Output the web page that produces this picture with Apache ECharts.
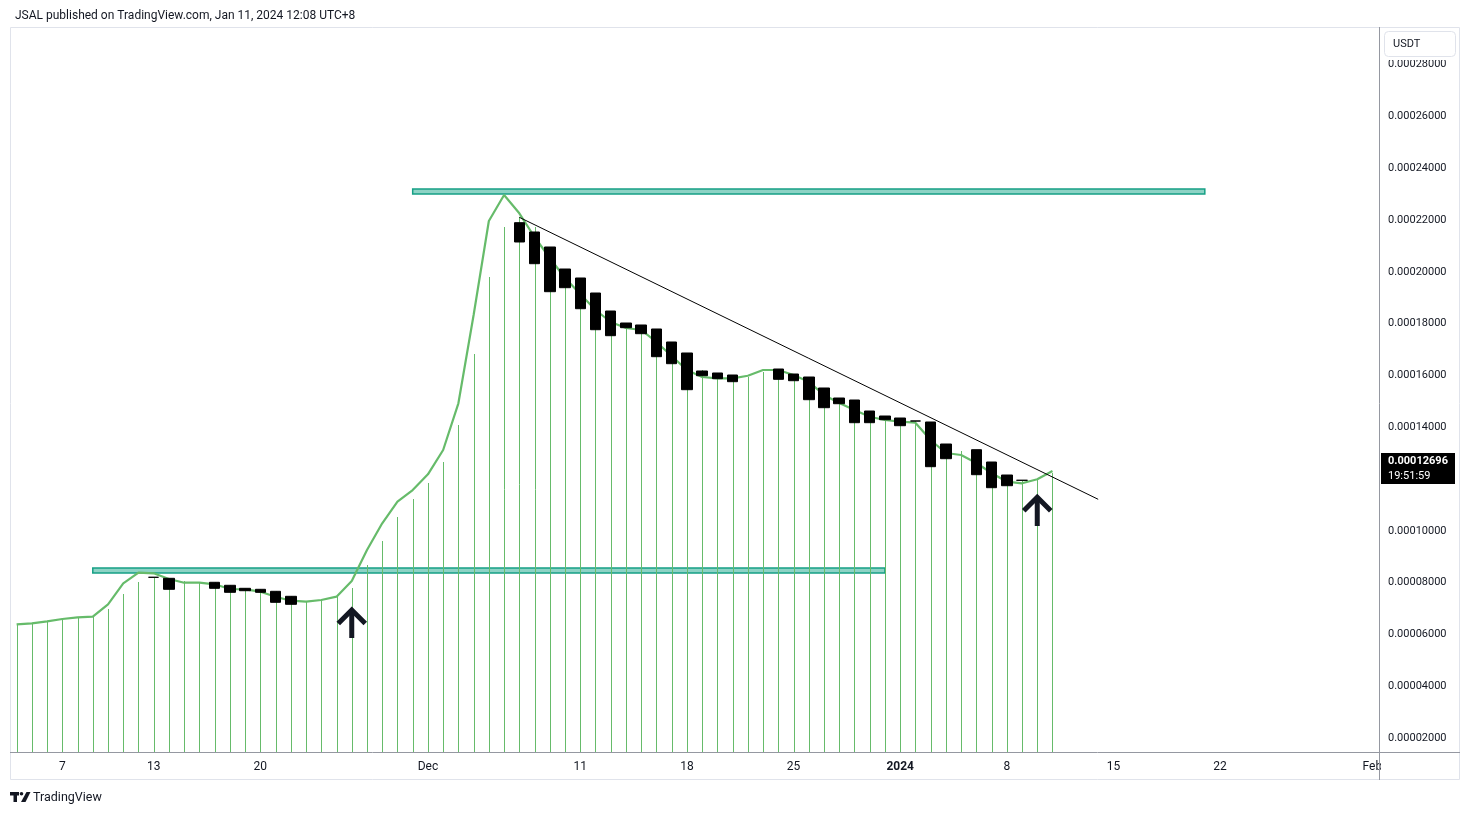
<!DOCTYPE html>
<html><head><meta charset="utf-8">
<script src="https://cdn.jsdelivr.net/npm/echarts@6/dist/echarts.min.js"></script>
<style>html,body{margin:0;padding:0;background:#fff;}#c{width:1470px;height:815px;}</style>
</head><body><div id="c"></div>
<script>
const FONT = 'Roboto, "DejaVu Sans", sans-serif';
// daily categories Nov 4, 2023 .. Feb 1, 2024
const categories = [];
for (let i = 0; i < 90; i++) {
  const d = new Date(Date.UTC(2023, 10, 4 + i));
  categories.push(d.toISOString().slice(0, 10));
}
const tickLabels = {
  '2023-11-07': '7', '2023-11-13': '13', '2023-11-20': '20', '2023-12-01': 'Dec',
  '2023-12-11': '11', '2023-12-18': '18', '2023-12-25': '25', '2024-01-01': '2024',
  '2024-01-08': '8', '2024-01-15': '15', '2024-01-22': '22', '2024-02-01': 'Feb'
};
const yTicks = [0.00002, 0.00004, 0.00006, 0.00008, 0.00010, 0.00012, 0.00014, 0.00016, 0.00018, 0.00020, 0.00022, 0.00024, 0.00026, 0.00028];
const yTickLabels = yTicks.filter(v => Math.abs(v - 0.00012) > 1e-9);

// green columns (Nov 4 .. Jan 11)
const columnValues = [
  0.00006390, 0.00006429, 0.00006490, 0.00006556, 0.00006622, 0.00006683, 0.00006981, 0.00007560, 0.00008023, 0.00008178,
  0.00008166, 0.00008062, 0.00007973, 0.00008012, 0.00007896, 0.00007780, 0.00007741, 0.00007664, 0.00007471, 0.00007290,
  0.00007328, 0.00007432, 0.00007803, 0.00008680, 0.00009606, 0.00010544, 0.00011228,
  0.00011846, 0.00012656, 0.00014085, 0.00016826, 0.00019799, 0.00021730, 0.00022127, 0.00021730, 0.00020958, 0.00020108,
  0.00019761, 0.00019181, 0.00018486, 0.00018023, 0.00017946, 0.00017792, 0.00017290, 0.00016865, 0.00016208, 0.00016093,
  0.00016015, 0.00015950, 0.00016143, 0.00016247, 0.00016054, 0.00015938, 0.00015514, 0.00015127, 0.00015050, 0.00014625,
  0.00014432,
  0.00014355, 0.00014239, 0.00014201, 0.00013351, 0.00013081, 0.00013131, 0.00012656, 0.00012154, 0.00011934, 0.00011988,
  0.00012220
];
// green line (Nov 4 .. Jan 11)
const lineValues = [
  0.00006390, 0.00006429, 0.00006506, 0.00006595, 0.00006660, 0.00006683, 0.00007162, 0.00007973, 0.00008382, 0.00008359,
  0.00008139, 0.00007996, 0.00007996, 0.00007934, 0.00007753, 0.00007741, 0.00007649, 0.00007456, 0.00007301, 0.00007263,
  0.00007328, 0.00007456, 0.00008062, 0.00009259, 0.00010290, 0.00011124, 0.00011575,
  0.00012181, 0.00013120, 0.00014923, 0.00018332, 0.00021961, 0.00022965, 0.00022259, 0.00021344, 0.00020533, 0.00019761,
  0.00019143, 0.00018525, 0.00018062, 0.00017830, 0.00017753, 0.00017290, 0.00016749, 0.00016208, 0.00015938, 0.00015888,
  0.00015888, 0.00015988, 0.00016208, 0.00016208, 0.00016015, 0.00015757, 0.00015243, 0.00014934, 0.00014664, 0.00014405,
  0.00014278,
  0.00014212, 0.00014174, 0.00013506, 0.00013004, 0.00012927, 0.00012618, 0.00012232, 0.00011896, 0.00011834, 0.00011988,
  0.00012309
];
// black (down) candles: [date, open, close]
const downCandles = [
  ['2023-11-13', 0.00008205, 0.00008205], ['2023-11-14', 0.00008166, 0.00007741],
  ['2023-11-17', 0.00008012, 0.00007780], ['2023-11-18', 0.00007896, 0.00007625],
  ['2023-11-19', 0.00007780, 0.00007687], ['2023-11-20', 0.00007741, 0.00007625],
  ['2023-11-21', 0.00007664, 0.00007239], ['2023-11-22', 0.00007471, 0.00007162],
  ['2023-12-07', 0.00021896, 0.00021151], ['2023-12-08', 0.00021537, 0.00020313],
  ['2023-12-09', 0.00020958, 0.00019232], ['2023-12-10', 0.00020108, 0.00019386],
  ['2023-12-11', 0.00019761, 0.00018575], ['2023-12-12', 0.00019181, 0.00017764],
  ['2023-12-13', 0.00018486, 0.00017533], ['2023-12-14', 0.00018023, 0.00017842],
  ['2023-12-15', 0.00017946, 0.00017610], ['2023-12-16', 0.00017792, 0.00016722],
  ['2023-12-17', 0.00017290, 0.00016452], ['2023-12-18', 0.00016865, 0.00015448],
  ['2023-12-19', 0.00016170, 0.00015988], ['2023-12-20', 0.00016093, 0.00015873],
  ['2023-12-21', 0.00016015, 0.00015757], ['2023-12-24', 0.00016247, 0.00015849],
  ['2023-12-25', 0.00016054, 0.00015795], ['2023-12-26', 0.00015938, 0.00015062],
  ['2023-12-27', 0.00015514, 0.00014753], ['2023-12-28', 0.00015127, 0.00014907],
  ['2023-12-29', 0.00015050, 0.00014174], ['2023-12-30', 0.00014625, 0.00014174],
  ['2023-12-31', 0.00014432, 0.00014290], ['2024-01-01', 0.00014355, 0.00014058],
  ['2024-01-02', 0.00014239, 0.00014239], ['2024-01-03', 0.00014201, 0.00012475],
  ['2024-01-04', 0.00013351, 0.00012784], ['2024-01-06', 0.00013131, 0.00012166],
  ['2024-01-07', 0.00012656, 0.00011664], ['2024-01-08', 0.00012154, 0.00011741],
  ['2024-01-09', 0.00011950, 0.00011950]
];
const lastPrice = 0.00012696;
const countdown = '19:51:59';
const resistanceBand = [['2023-11-30', 0.00023004], ['2024-01-21', 0.00023197]];
const supportBand = [['2023-11-09', 0.00008371], ['2023-12-31', 0.00008564]];
const trendLine = [['2023-12-07', 0.00022104], ['2024-01-14', 0.00011216]];
const arrows = [['2023-11-26', 0.00006942, 0.00005861], ['2024-01-10', 0.00011293, 0.00010185]];

const candleData = categories.map(c => {
  const f = downCandles.find(d => d[0] === c);
  return f ? [f[1], f[2], Math.min(f[1], f[2]), Math.max(f[1], f[2])] : ['-', '-', '-', '-'];
});
const columnData = columnValues.map((v, i) => [categories[i], v]);

const GREEN = '#66bb6a';
const bandStyle = { color: '#8dd3c5', borderColor: '#16a085', borderWidth: 1.5 };
const chart = echarts.init(document.getElementById('c'), null, { renderer: 'canvas' });
chart.setOption({
  animation: false,
  backgroundColor: '#ffffff',
  title: {
    text: 'JSAL published on TradingView.com, Jan 11, 2024 12:08 UTC+8',
    left: 10, top: 5,
    textStyle: { fontSize: 12, fontWeight: 'normal', color: '#131722', fontFamily: FONT }
  },
  grid: { left: 9, right: 90, top: 27, bottom: 63, containLabel: false },
  xAxis: {
    type: 'category', data: categories, boundaryGap: true,
    axisLine: { show: false }, axisTick: { show: false }, splitLine: { show: false },
    axisLabel: {
      interval: (i, v) => tickLabels[v] !== undefined,
      formatter: v => v === '2024-01-01' ? '{b|' + tickLabels[v] + '}' : (tickLabels[v] || ''),
      margin: 9, color: '#131722', fontSize: 12, fontFamily: FONT,
      rich: { b: { fontWeight: 'bold', fontSize: 12, color: '#131722', fontFamily: FONT } }
    }
  },
  yAxis: {
    type: 'value', position: 'right',
    min: 0.0000145946, max: 0.000294517,
    axisLine: { show: false }, axisTick: { show: false }, splitLine: { show: false },
    axisLabel: {
      customValues: yTickLabels,
      formatter: v => v.toFixed(8), margin: 8,
      color: '#131722', fontSize: 11, fontFamily: FONT
    }
  },
  series: [
    {
      type: 'custom', z: 1, silent: true, data: columnData, encode: { x: 0, y: 1 },
      renderItem: (params, api) => {
        const p = api.coord([api.value(0), api.value(1)]);
        const bottom = params.coordSys.y + params.coordSys.height;
        const x = Math.round(p[0]) + 0.5;
        return { type: 'line', shape: { x1: x, y1: Math.round(p[1]), x2: x, y2: bottom }, style: { stroke: GREEN, lineWidth: 1 } };
      }
    },
    {
      type: 'line', data: lineValues, symbol: 'none', smooth: false, z: 3, clip: false,
      lineStyle: { color: GREEN, width: 2.2 },
      markArea: {
        silent: true, itemStyle: bandStyle,
        data: [
          [{ coord: resistanceBand[0] }, { coord: resistanceBand[1] }],
          [{ coord: supportBand[0] }, { coord: supportBand[1] }]
        ]
      },
      markLine: {
        silent: true, symbol: 'none', animation: false,
        label: { show: false },
        data: [
          { yAxis: lastPrice, lineStyle: { color: '#000', width: 1, type: [1, 2] } },
          [{ coord: trendLine[0], lineStyle: { color: '#000', width: 1, type: 'solid' } }, { coord: trendLine[1] }]
        ]
      }
    },
    {
      type: 'candlestick', data: candleData, barWidth: 11, z: 4,
      itemStyle: {
        color: '#000', color0: '#000', borderColor: '#000', borderColor0: '#000',
        borderColorDoji: '#000', borderWidth: 1
      }
    },
    {
      type: 'custom', z: 6, data: arrows, encode: { x: 0, y: [1, 2] },
      renderItem: (params, api) => {
        const tip = api.coord([api.value(0), api.value(1)]);
        const base = api.coord([api.value(0), api.value(2)]);
        const st = { stroke: '#131722', lineWidth: 5, fill: 'none', lineJoin: 'miter', lineCap: 'butt' };
        return {
          type: 'group', children: [
            { type: 'polyline', shape: { points: [[tip[0] - 13.5, tip[1] + 13.5], [tip[0], tip[1]], [tip[0] + 13.5, tip[1] + 13.5]] }, style: st },
            { type: 'line', shape: { x1: tip[0], y1: tip[1] + 1, x2: base[0], y2: base[1] }, style: st }
          ]
        };
      }
    },
    {
      type: 'custom', z: 60, clip: false, data: [[0, lastPrice]], encode: { x: 0, y: 1 },
      renderItem: (params, api) => {
        const y = api.coord([0, api.value(1)])[1];
        const cs = params.coordSys;
        const x = cs.x + cs.width + 1;
        return {
          type: 'group', children: [
            { type: 'rect', shape: { x: x, y: y - 8, width: 74, height: 31 }, style: { fill: '#000' } },
            { type: 'text', style: { x: x + 7, y: y, text: lastPrice.toFixed(8), fill: '#fff', font: 'bold 11px ' + FONT, textVerticalAlign: 'middle', verticalAlign: 'middle' } },
            { type: 'text', style: { x: x + 7, y: y + 15, text: countdown, fill: '#fff', font: '11px ' + FONT, textVerticalAlign: 'middle', verticalAlign: 'middle' } }
          ]
        };
      }
    }
  ],
  graphic: [
    { type: 'rect', z: 40, silent: true, shape: { x: 1381, y: 753, width: 78, height: 26 }, style: { fill: '#fff' } },
    { type: 'rect', z: 40, silent: true, shape: { x: 1381, y: 28, width: 78, height: 32 }, style: { fill: '#fff' } },
    { type: 'rect', z: 41, silent: true, shape: { x: 1384.5, y: 31.5, width: 71, height: 25, r: 4 }, style: { fill: '#fff', stroke: '#e0e3eb', lineWidth: 1 } },
    { type: 'text', z: 42, silent: true, style: { x: 1393, y: 44, text: 'USDT', fill: '#131722', font: '11px ' + FONT, verticalAlign: 'middle' } },
    { type: 'rect', z: 45, silent: true, shape: { x: 10.5, y: 27.5, width: 1449, height: 752 }, style: { fill: 'none', stroke: '#e0e3eb', lineWidth: 1 } },
    { type: 'line', z: 50, silent: true, shape: { x1: 1379.5, y1: 27, x2: 1379.5, y2: 780 }, style: { stroke: '#9598a1', lineWidth: 1 } },
    { type: 'line', z: 50, silent: true, shape: { x1: 10, y1: 752.5, x2: 1460, y2: 752.5 }, style: { stroke: '#9598a1', lineWidth: 1 } },
    // TradingView logo
    { type: 'rect', z: 50, silent: true, shape: { x: 10, y: 792, width: 9, height: 3.5 }, style: { fill: '#131722' } },
    { type: 'rect', z: 50, silent: true, shape: { x: 13.5, y: 792, width: 3.5, height: 10 }, style: { fill: '#131722' } },
    { type: 'circle', z: 50, silent: true, shape: { cx: 21.5, cy: 793.8, r: 1.8 }, style: { fill: '#131722' } },
    { type: 'polygon', z: 50, silent: true, shape: { points: [[26.5, 792], [30.5, 792], [25.5, 802], [21, 802]] }, style: { fill: '#131722' } },
    { type: 'text', z: 50, silent: true, style: { x: 33, y: 797.5, text: 'TradingView', fill: '#131722', font: '12.5px ' + FONT, verticalAlign: 'middle' } }
  ]
});
</script></body></html>
